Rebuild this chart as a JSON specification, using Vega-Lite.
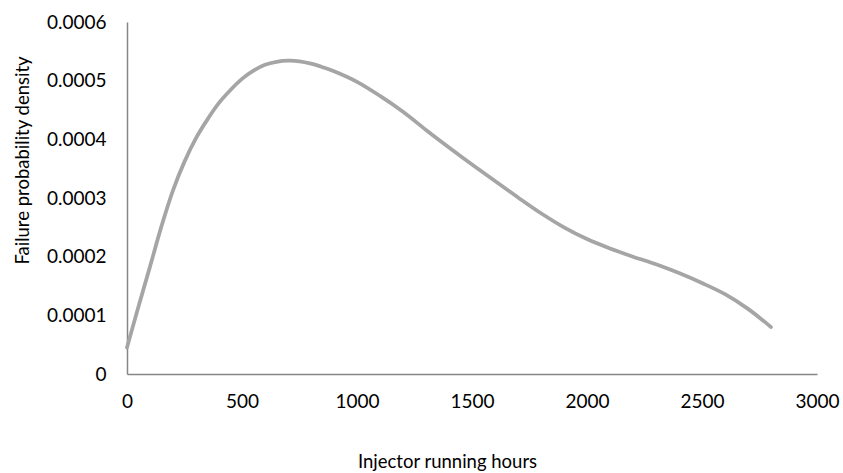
{
  "$schema": "https://vega.github.io/schema/vega-lite/v6.json",
  "width": 690,
  "height": 352,
  "autosize": {"type": "none"},
  "padding": {"left": 127, "top": 22, "right": 26, "bottom": 99},
  "background": "white",
  "config": {"view": {"stroke": null}, "font": "Lato"},
  "data": {
    "values": [
      {"hours": 0, "density": 0.000045},
      {"hours": 50, "density": 0.000115},
      {"hours": 100, "density": 0.000183},
      {"hours": 150, "density": 0.000252},
      {"hours": 200, "density": 0.000313},
      {"hours": 250, "density": 0.000362},
      {"hours": 300, "density": 0.000402},
      {"hours": 350, "density": 0.000434},
      {"hours": 400, "density": 0.000462},
      {"hours": 450, "density": 0.000484},
      {"hours": 500, "density": 0.000503},
      {"hours": 550, "density": 0.000517},
      {"hours": 600, "density": 0.000527},
      {"hours": 650, "density": 0.000532},
      {"hours": 700, "density": 0.000534},
      {"hours": 750, "density": 0.000533},
      {"hours": 800, "density": 0.000529},
      {"hours": 850, "density": 0.000523},
      {"hours": 900, "density": 0.000516},
      {"hours": 1000, "density": 0.000498},
      {"hours": 1100, "density": 0.000474},
      {"hours": 1200, "density": 0.000447},
      {"hours": 1300, "density": 0.000416},
      {"hours": 1400, "density": 0.000386},
      {"hours": 1500, "density": 0.000357},
      {"hours": 1600, "density": 0.000329},
      {"hours": 1700, "density": 0.000301},
      {"hours": 1800, "density": 0.000274},
      {"hours": 1900, "density": 0.00025},
      {"hours": 2000, "density": 0.00023},
      {"hours": 2100, "density": 0.000214},
      {"hours": 2200, "density": 0.0002},
      {"hours": 2300, "density": 0.000187},
      {"hours": 2400, "density": 0.000172},
      {"hours": 2500, "density": 0.000155},
      {"hours": 2600, "density": 0.000136},
      {"hours": 2700, "density": 0.000111},
      {"hours": 2800, "density": 0.00008}
    ]
  },
  "mark": {"type": "line", "interpolate": "catmull-rom", "color": "#A5A5A5", "strokeWidth": 3.75, "strokeCap": "round"},
  "encoding": {
    "x": {
      "field": "hours",
      "type": "quantitative",
      "scale": {"domain": [0, 3000], "nice": false, "zero": false},
      "axis": {
        "values": [0, 500, 1000, 1500, 2000, 2500, 3000],
        "format": "d",
        "title": "Injector running hours",
        "grid": false,
        "ticks": false,
        "domainColor": "#868686",
        "domainWidth": 1.5,
        "labelFont": "Lato",
        "labelFontSize": 19,
        "labelColor": "#000000",
        "labelPadding": 18,
        "labelFlush": false,
        "labelOverlap": false,
        "titleFont": "Lato",
        "titleFontSize": 18.5,
        "titleFontWeight": "normal",
        "titleColor": "#000000",
        "titleX": 320,
        "titleY": 93,
        "titleAlign": "center",
        "titleBaseline": "alphabetic"
      }
    },
    "y": {
      "field": "density",
      "type": "quantitative",
      "scale": {"domain": [0, 0.0006], "nice": false},
      "axis": {
        "values": [0, 0.0001, 0.0002, 0.0003, 0.0004, 0.0005, 0.0006],
        "labelExpr": "datum.value == 0 ? '0' : format(datum.value, '.4f')",
        "title": "Failure probability density",
        "grid": false,
        "ticks": false,
        "domainColor": "#868686",
        "domainWidth": 1.5,
        "labelFont": "Lato",
        "labelFontSize": 19,
        "labelColor": "#000000",
        "labelPadding": 21,
        "labelFlush": false,
        "labelOverlap": false,
        "titleFont": "Lato",
        "titleFontSize": 18.5,
        "titleFontWeight": "normal",
        "titleColor": "#000000",
        "titleAngle": -90,
        "titleX": -99,
        "titleY": 138,
        "titleAlign": "center",
        "titleBaseline": "alphabetic"
      }
    }
  }
}
